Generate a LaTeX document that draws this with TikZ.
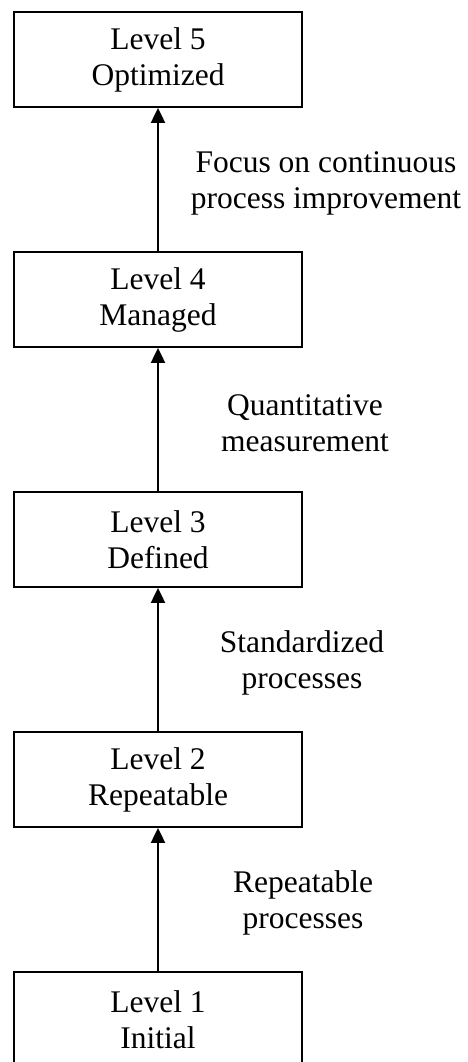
\documentclass[tikz,border=0pt]{standalone}
\usepackage{fontspec}
\setmainfont{Liberation Serif}
\usetikzlibrary{arrows.meta}
\tikzset{
  levelbox/.style={draw, line width=1.8pt, minimum width=288pt, minimum height=95pt, inner sep=0pt, align=center, font=\fontsize{31.5}{36}\selectfont},
  steplabel/.style={align=center, inner sep=0pt, font=\fontsize{31.5}{36}\selectfont},
  uparrow/.style={line width=2pt, -{Triangle[length=15pt,width=14pt]}}
}
\begin{document}
\begin{tikzpicture}[x=1pt,y=-1pt]
\useasboundingbox (0,0) rectangle (468,1062);
\node[levelbox] (l5) at (158,59.5) {Level 5\\Optimized};
\node[levelbox] (l4) at (158,299.5) {Level 4\\Managed};
\node[levelbox] (l3) at (158,539.5) {Level 3\\Defined};
\node[levelbox] (l2) at (158,779.5) {Level 2\\Repeatable};
\node[levelbox] (l1) at (158,1019.5) {Level 1\\Initial};
\draw[uparrow] (l1.north) -- (l2.south);
\draw[uparrow] (l2.north) -- (l3.south);
\draw[uparrow] (l3.north) -- (l4.south);
\draw[uparrow] (l4.north) -- (l5.south);
\node[steplabel] (t45) at (326,183) {Focus on continuous\\process improvement};
\node[steplabel] (t34) at (305,423) {Quantitative\\measurement};
\node[steplabel] (t23) at (302,663) {Standardized\\processes};
\node[steplabel] (t12) at (303,903) {Repeatable\\processes};
\end{tikzpicture}
\end{document}
